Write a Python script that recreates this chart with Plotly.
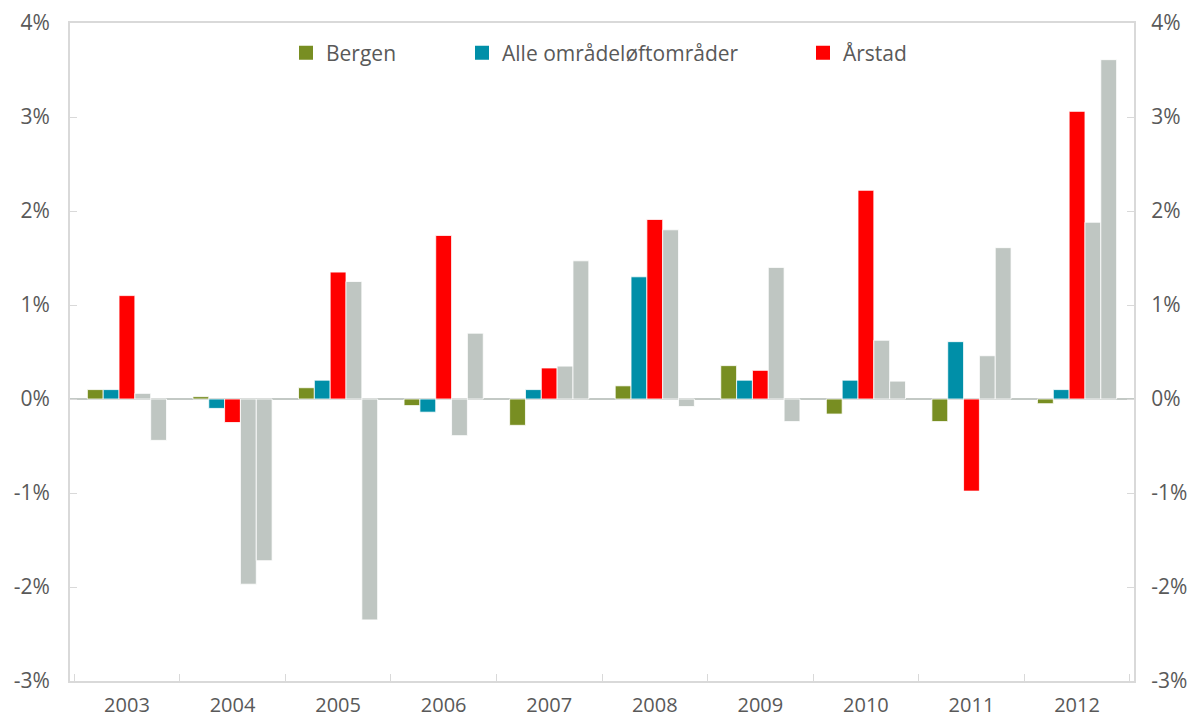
import plotly.graph_objects as go

years = ["2003", "2004", "2005", "2006", "2007", "2008", "2009", "2010", "2011", "2012"]
bergen = [0.10, 0.025, 0.12, -0.07, -0.28, 0.14, 0.355, -0.16, -0.24, -0.05]
alle = [0.10, -0.10, 0.20, -0.14, 0.10, 1.30, 0.20, 0.20, 0.61, 0.10]
arstad = [1.10, -0.25, 1.35, 1.74, 0.33, 1.91, 0.305, 2.22, -0.98, 3.06]
grey_a = [0.06, -1.97, 1.25, -0.39, 0.35, 1.80, 1.40, 0.625, 0.46, 1.88]
grey_b = [-0.44, -1.72, -2.35, 0.70, 1.47, -0.08, -0.24, 0.19, 1.61, 3.61]
legend_names = ["Bergen", "Alle områdeløftområder", "Årstad"]

tick_vals = [-3, -2, -1, 0, 1, 2, 3, 4]
tick_text = ["-3%", "-2%", "-1%", "0%", "1%", "2%", "3%", "4%"]

GREEN = "#788E22"
TEAL = "#008FA8"
RED = "#FF0000"
GREY = "#BFC6C2"
AXIS = "#D9D9D9"
TXT = "#595959"
FONT = "Open Sans"
FS = 21

fig = go.Figure()
line = dict(color="white", width=0.8)
series = [(bergen, GREEN), (alle, TEAL), (arstad, RED)]
for (vals, col), nm in zip(series, legend_names):
    fig.add_trace(go.Bar(x=years, y=vals, name=nm, marker=dict(color=col, line=line), showlegend=False))
fig.add_trace(go.Bar(x=years, y=grey_a, name="", marker=dict(color=GREY, line=line), showlegend=False))
fig.add_trace(go.Bar(x=years, y=grey_b, name="", marker=dict(color=GREY, line=line), showlegend=False))

# legend entries (square swatches)
for (vals, col), nm, lg in zip(series, legend_names, ["legend", "legend2", "legend3"]):
    fig.add_trace(go.Scatter(x=[None], y=[None], mode="markers", name=nm, legend=lg,
                             marker=dict(symbol="square", size=14, color=col)))

# invisible trace to show right axis
fig.add_trace(go.Scatter(x=years, y=grey_b, yaxis="y2", mode="markers", marker=dict(opacity=0),
                         showlegend=False, hoverinfo="skip"))

OFF = 8  # page body margin
W, H = 1195 - OFF, 722 - OFF
# target plot area in screen pixels: x 70..1134, y 23..681
L = 70 - OFF
T = 23 - OFF
R = W + OFF - 1134
B = H + OFF - 681
pw = W - L - R
ph = H - T - B

def px_x(p):
    return (p - OFF - L) / pw

def px_y(p):
    return (H + OFF - B - p) / ph

leg_common = dict(orientation="h", xanchor="left", yanchor="middle", y=px_y(53),
                  bgcolor="rgba(0,0,0,0)", font=dict(family=FONT, size=FS, color=TXT))

fig.update_layout(
    width=W, height=H,
    margin=dict(l=L, r=R, t=T, b=B, autoexpand=False),
    paper_bgcolor="white", plot_bgcolor="white",
    barmode="group", bargap=0.25, bargroupgap=0,
    font=dict(family=FONT, size=FS, color=TXT),
    legend=dict(x=px_x(286), **leg_common),
    legend2=dict(x=px_x(462), **leg_common),
    legend3=dict(x=px_x(803), **leg_common),
    xaxis=dict(
        type="category", showline=True, linecolor=AXIS, linewidth=2, mirror=True,
        ticks="inside", tickson="boundaries", ticklen=7, tickcolor=AXIS, tickwidth=1,
        showgrid=False, tickfont=dict(family=FONT, size=20, color=TXT), ticklabelstandoff=5,
        automargin=False,
    ),
    yaxis=dict(
        range=[-3, 4], tickvals=tick_vals, ticktext=tick_text, showgrid=False,
        showline=True, linecolor=AXIS, linewidth=2, ticks="inside", ticklen=7,
        tickcolor=AXIS, zeroline=True, zerolinecolor="#C3C9C5", zerolinewidth=2,
        tickfont=dict(family=FONT, size=FS, color=TXT), ticklabelstandoff=14,
        automargin=False,
    ),
    yaxis2=dict(
        range=[-3, 4], tickvals=tick_vals, ticktext=tick_text, showgrid=False,
        overlaying="y", side="right", showline=True, linecolor=AXIS, linewidth=2,
        ticks="inside", ticklen=7, tickcolor=AXIS, zeroline=False,
        tickfont=dict(family=FONT, size=FS, color=TXT), ticklabelstandoff=11,
        automargin=False,
    ),
)

fig.write_html("out.html")
